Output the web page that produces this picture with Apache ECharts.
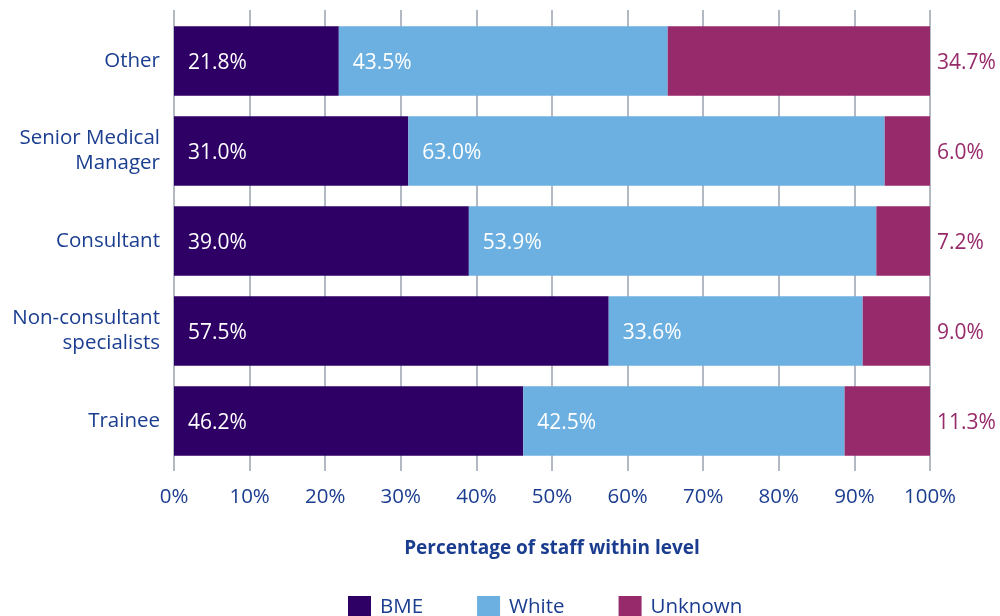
<!DOCTYPE html>
<html><head><meta charset="utf-8">
<script src="https://cdn.jsdelivr.net/npm/echarts@6/dist/echarts.min.js"></script>
<style>html,body{margin:0;padding:0;background:#fff}#c{width:1000px;height:616px}</style>
</head><body><div id="c"></div>
<script>
const categories = ['Trainee', 'Non-consultant\nspecialists', 'Consultant', 'Senior Medical\nManager', 'Other'];
const bme = [46.2, 57.5, 39.0, 31.0, 21.8];
const white = [42.5, 33.6, 53.9, 63.0, 43.5];
const unknown = [11.3, 9.0, 7.2, 6.0, 34.7];
const xTicks = [0, 10, 20, 30, 40, 50, 60, 70, 80, 90, 100];

const navy = '#1b3d8f';
const font = 'Open Sans';
const fs = 20.5;
const chart = echarts.init(document.getElementById('c'));
const inLabel = {show: true, position: 'insideLeft', distance: 14, offset: [0, 2], color: '#fff', fontFamily: font, fontSize: 21,
  formatter: p => p.value.toFixed(1) + '%'};
chart.setOption({
  animation: false,
  textStyle: {fontFamily: font},
  grid: {left: 174, right: 70, top: 16, bottom: 150},
  legend: {
    left: 343, top: 591, itemWidth: 23, itemHeight: 23, itemGap: 54,
    icon: 'rect',
    textStyle: {color: navy, fontSize: fs, fontFamily: font, padding: [0, 0, 0, 4]},
    data: ['BME', 'White', 'Unknown']
  },
  xAxis: [{
    type: 'value', min: 0, max: 100, interval: 10,
    axisLine: {show: false},
    axisTick: {show: true, length: 5, lineStyle: {color: '#9aa3b0', width: 1.5}},
    splitLine: {show: true, lineStyle: {color: '#9aa3b0', width: 1.5}},
    axisLabel: {color: navy, fontSize: fs, fontFamily: font, margin: 21,
      formatter: v => xTicks.includes(v) ? v + '%' : ''},
    name: 'Percentage of staff within level',
    nameLocation: 'middle', nameGap: 73,
    nameTextStyle: {color: navy, fontSize: 19, fontWeight: 'bold', fontFamily: font}
  }, {
    type: 'value', min: 0, max: 100, interval: 10, position: 'top',
    axisLine: {show: false},
    axisTick: {show: true, length: 6, lineStyle: {color: '#9aa3b0', width: 1.5}},
    splitLine: {show: false}, axisLabel: {show: false}
  }],
  yAxis: {
    type: 'category', data: categories,
    axisLine: {show: false}, axisTick: {show: false},
    axisLabel: {color: navy, fontSize: fs, fontFamily: font, margin: 14, lineHeight: 25, align: 'right',
      padding: [4, 0, 0, 0]}
  },
  series: [
    {name: 'BME', type: 'bar', stack: 's', data: bme, barCategoryGap: '23%',
     itemStyle: {color: '#2e0066'}, label: inLabel},
    {name: 'White', type: 'bar', stack: 's', data: white,
     itemStyle: {color: '#6cb0e1'}, label: inLabel},
    {name: 'Unknown', type: 'bar', stack: 's', data: unknown,
     itemStyle: {color: '#972a6b'},
     label: {show: true, position: 'right', distance: 7, offset: [0, 2], color: '#972a6b', fontFamily: font, fontSize: 21,
       formatter: p => p.value.toFixed(1) + '%'}}
  ]
});
</script></body></html>
